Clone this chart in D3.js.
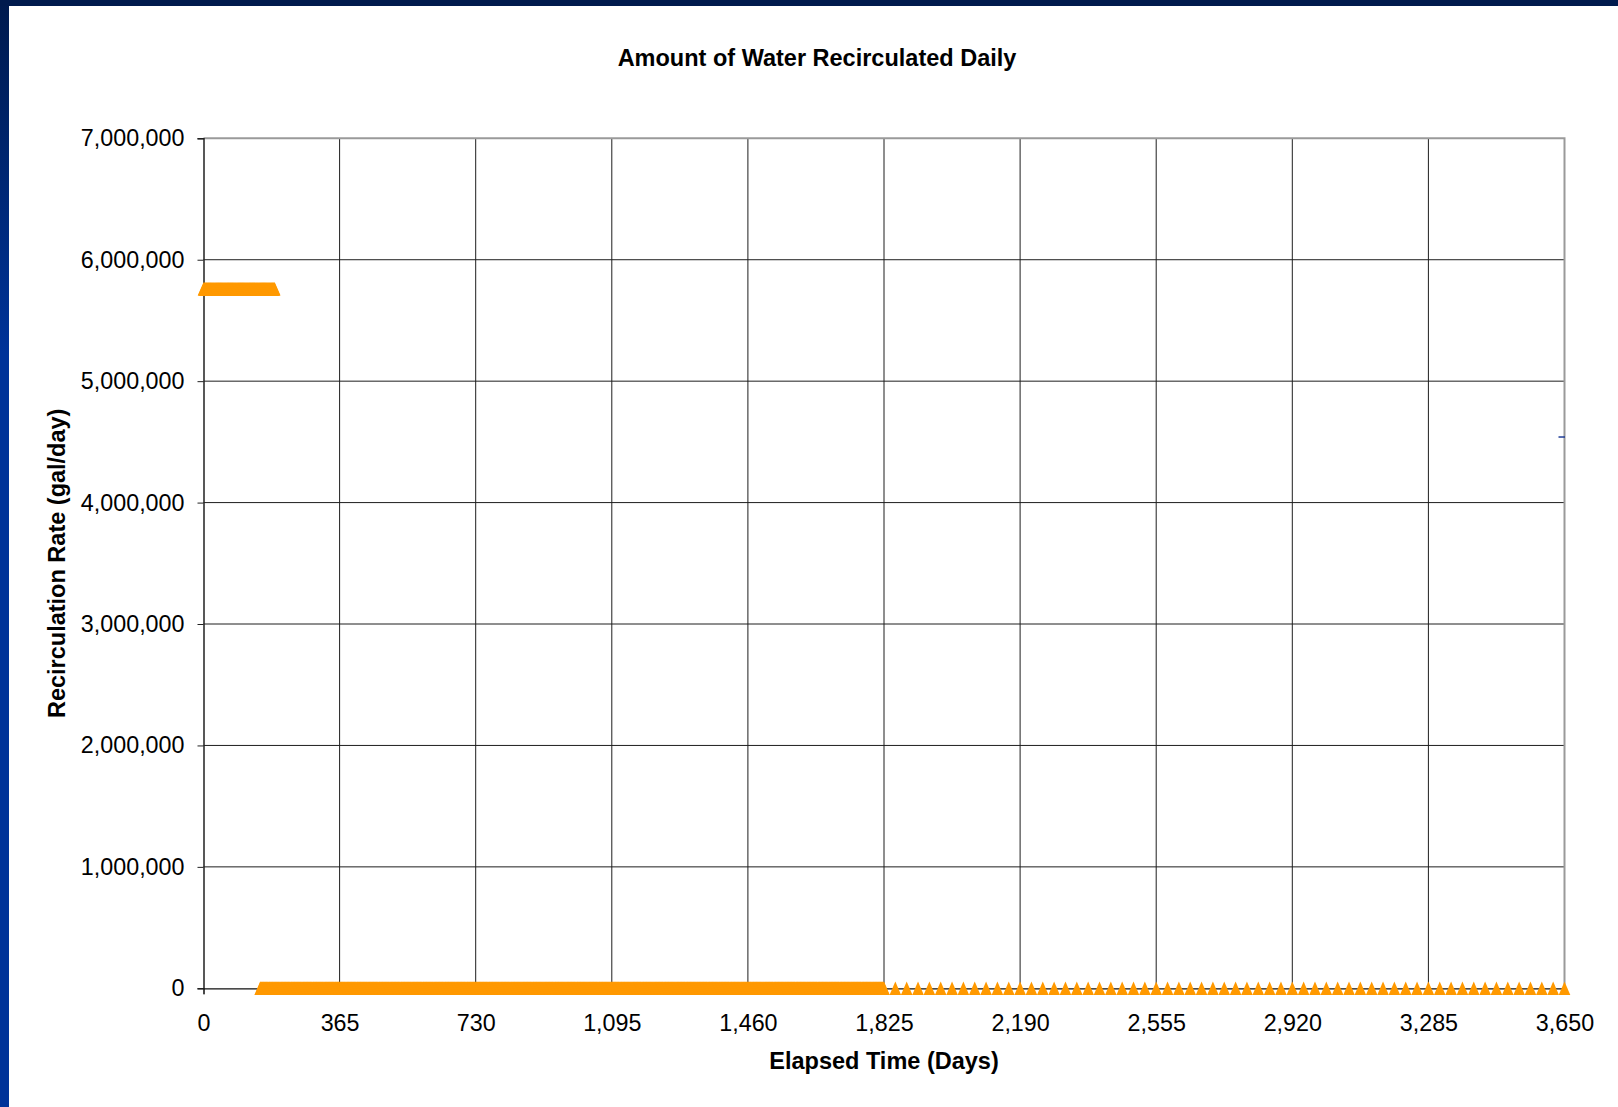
<!DOCTYPE html>
<html>
<head>
<meta charset="utf-8">
<script src="https://cdn.jsdelivr.net/npm/d3@7"></script>
<style>
  html, body { margin: 0; padding: 0; background: #fff; }
  svg { display: block; font-family: "Liberation Sans", Arial, sans-serif; }
</style>
</head>
<body>
<svg id="chart" width="1618" height="1107"></svg>
<script>
// ---------- data ----------
const chartTitle = "Amount of Water Recirculated Daily";
const xTitle = "Elapsed Time (Days)";
const yTitle = "Recirculation Rate (gal/day)";
const xTicks = [0, 365, 730, 1095, 1460, 1825, 2190, 2555, 2920, 3285, 3650];
const yTicks = [0, 1000000, 2000000, 3000000, 4000000, 5000000, 6000000, 7000000];

// runs of recorded points: first day, last day, recording interval (days), value (gal/day)
const runStart = [0, 152, 1825];
const runEnd   = [191, 1825, 3650];
const runStep  = [1, 1, 365 / 12];
const runValue = [5760000, 0, 0];

// second (blue) series: one visible point at the right edge
const blueDays = [3650];
const blueValues = [4540000];

// ---------- build points ----------
const points = [];
runStart.forEach((s, i) => {
  const n = Math.round((runEnd[i] - s) / runStep[i]);
  for (let k = (i === 2 ? 1 : 0); k <= n; k++) {
    points.push({ day: s + k * runStep[i], value: runValue[i] });
  }
});

// ---------- layout ----------
const W = 1618, H = 1107;
const plot = { left: 203.5, right: 1564.5, top: 138.3, bottom: 988.3 };
const svg = d3.select("#chart");

// frame
const defs = svg.append("defs");
const grad = defs.append("linearGradient").attr("id", "leftGrad")
  .attr("x1", 0).attr("y1", 0).attr("x2", 0).attr("y2", 1);
grad.append("stop").attr("offset", "0%").attr("stop-color", "#001a4d");
grad.append("stop").attr("offset", "32%").attr("stop-color", "#003399");
grad.append("stop").attr("offset", "100%").attr("stop-color", "#003399");
defs.append("clipPath").attr("id", "plotClip").append("rect")
  .attr("x", plot.left).attr("y", plot.top - 10)
  .attr("width", plot.right - plot.left + 0.5).attr("height", plot.bottom - plot.top + 20);

svg.append("rect").attr("x", 0).attr("y", 0).attr("width", W).attr("height", H).attr("fill", "#fff");
svg.append("rect").attr("x", 0).attr("y", 0).attr("width", 9).attr("height", H).attr("fill", "url(#leftGrad)");
svg.append("rect").attr("x", 0).attr("y", 0).attr("width", W).attr("height", 6).attr("fill", "#001a4d");

// scales
const x = d3.scaleLinear().domain([0, 3650]).range([plot.left, plot.right]);
const y = d3.scaleLinear().domain([0, 7000000]).range([plot.bottom, plot.top]);

// gridlines
svg.append("g").selectAll("line.vg").data(xTicks.slice(1, -1)).join("line")
  .attr("x1", d => x(d)).attr("x2", d => x(d))
  .attr("y1", plot.top).attr("y2", plot.bottom)
  .attr("stroke", "#1e1e1e").attr("stroke-width", 1);
svg.append("g").selectAll("line.hg").data(yTicks.slice(1, -1)).join("line")
  .attr("x1", plot.left).attr("x2", plot.right)
  .attr("y1", d => y(d)).attr("y2", d => y(d))
  .attr("stroke", "#1e1e1e").attr("stroke-width", 1);

// border top/right (grey)
svg.append("path")
  .attr("d", `M${plot.left},${plot.top}H${plot.right}V${plot.bottom}`)
  .attr("fill", "none").attr("stroke", "#9a9a9a").attr("stroke-width", 2);

// axes
const yAxis = d3.axisLeft(y).tickValues(yTicks).tickFormat(d3.format(",")).tickSize(6).tickPadding(13);
const gy = svg.append("g").attr("transform", `translate(${plot.left},0)`).call(yAxis);
gy.select(".domain").attr("stroke", "#222").attr("stroke-width", 1.5);
gy.selectAll(".tick line").attr("stroke", "#222");
gy.selectAll("text").attr("font-size", 23.3).attr("fill", "#000")
  .attr("font-family", "'Liberation Sans', Arial, sans-serif");

const xAxis = d3.axisBottom(x).tickValues(xTicks).tickFormat(d3.format(",")).tickSize(6).tickPadding(20);
const gx = svg.append("g").attr("transform", `translate(0,${plot.bottom})`).call(xAxis);
gx.select(".domain").attr("stroke", "#111").attr("stroke-width", 1.2);
gx.selectAll(".tick line").attr("stroke", "#222");
gx.selectAll("text").attr("font-size", 23.3).attr("fill", "#000")
  .attr("font-family", "'Liberation Sans', Arial, sans-serif");

// markers (orange triangles)
const tri = "M0,-6.7L5.8,6.7L-5.8,6.7Z";
svg.append("g").selectAll("path").data(points).join("path")
  .attr("d", tri)
  .attr("transform", d => `translate(${x(d.day)},${y(d.value)})`)
  .attr("fill", "#ff9900");

// blue series marker (dash, clipped at the plot edge)
svg.append("g").attr("clip-path", "url(#plotClip)")
  .selectAll("line").data(blueDays).join("line")
  .attr("x1", (d) => x(d) - 6).attr("x2", (d) => x(d) + 6)
  .attr("y1", (d, i) => y(blueValues[i])).attr("y2", (d, i) => y(blueValues[i]))
  .attr("stroke", "#1f3c96").attr("stroke-width", 1.5);

// titles
svg.append("text").attr("x", 817).attr("y", 66).attr("text-anchor", "middle")
  .attr("font-size", 23.5).attr("font-weight", "bold").text(chartTitle);
svg.append("text").attr("x", (plot.left + plot.right) / 2).attr("y", 1069).attr("text-anchor", "middle")
  .attr("font-size", 23.5).attr("font-weight", "bold").text(xTitle);
svg.append("text")
  .attr("transform", `translate(65,${(plot.top + plot.bottom) / 2}) rotate(-90)`)
  .attr("text-anchor", "middle").attr("font-size", 23.5).attr("font-weight", "bold").text(yTitle);
</script>
</body>
</html>
